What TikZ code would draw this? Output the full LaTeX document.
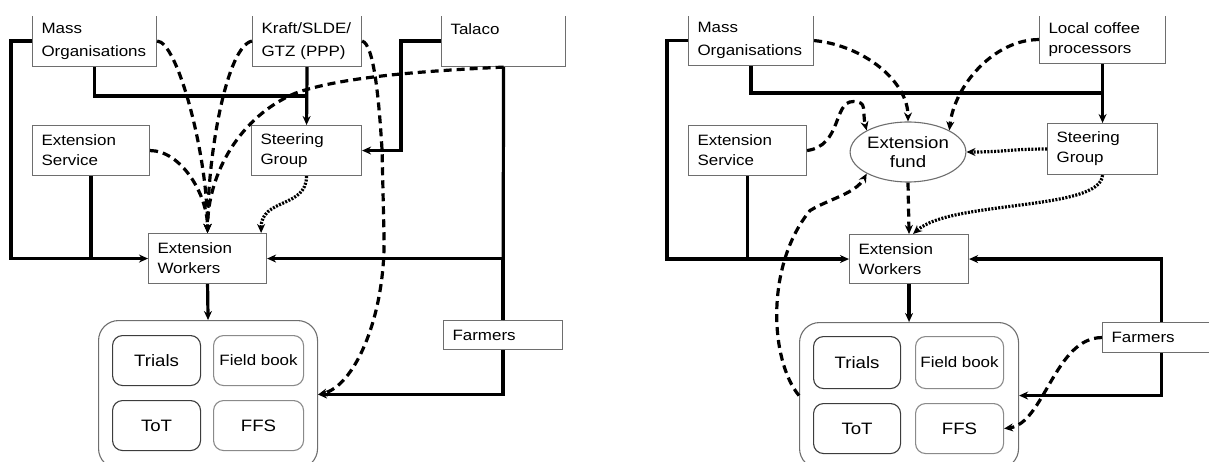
\documentclass[tikz,border=0pt]{standalone}
\usepackage{fontspec}
\setmainfont{Liberation Sans}[FakeStretch=1.13]
\usepackage{tikz}
\usetikzlibrary{arrows.meta,shapes.geometric}
\definecolor{edgex}{HTML}{6E6E6E}
\definecolor{darkx}{HTML}{3C3C3C}
\definecolor{lightx}{HTML}{8A8A8A}
\tikzset{
  ln/.style={line width=3.2pt,black},
  ar/.style={ln,-{Stealth[length=9pt,width=8pt]}},
  dsh/.style={ar,dash pattern=on 8pt off 5pt},
  dts/.style={ar,dash pattern=on 2pt off 1.4pt},
  box/.style={draw=edgex,line width=1.1pt,fill=white,anchor=north west,align=left,inner xsep=9pt,inner ysep=0pt,font=\fontsize{15}{20}\selectfont},
  topbox/.style={box,font=\fontsize{15}{23}\selectfont},
  act/.style={draw=darkx,line width=1.1pt,rounded corners=10pt,anchor=north west,align=center,inner sep=0pt,font=\fontsize{16.5}{18}\selectfont},
  frame/.style={draw=edgex,line width=1.1pt,rounded corners=20pt,anchor=north west,inner sep=0pt}
}
\begin{document}
\begin{tikzpicture}[x=1pt,y=-1pt]
\useasboundingbox (0,0) rectangle (1209,462);
\clip (0,17) rectangle (1209,462);
% left: before the fund
\node[topbox,text width=106pt,minimum height=51pt] (massL) at (32,15) {Mass\\Organisations};
\node[topbox,text width=91pt,minimum height=51pt] (kraftL) at (252,15) {Kraft/SLDE/\\GTZ (PPP)};
\node[topbox,text width=106pt,minimum height=51pt] (talacoL) at (441,15) {Talaco\\\mbox{}};
\node[box,text width=99pt,minimum height=50pt] (servL) at (32,125) {Extension\\Service};
\node[box,text width=92pt,minimum height=50pt] (steerL) at (251,125) {Steering\\Group};
\node[box,text width=100pt,minimum height=50pt] (ewL) at (148,233) {Extension\\Workers};
\node[box,text width=101pt,minimum height=29pt] (farmL) at (443,320) {Farmers};
\node[frame,minimum width=219pt,minimum height=148pt] (bigL) at (98,320) {};
\node[act,minimum width=88pt,minimum height=50pt] (trialsL) at (112,335) {Trials};
\node[act,draw=lightx,minimum width=90pt,minimum height=50pt,font=\fontsize{15}{18}\selectfont] (bookL) at (213,335) {Field book};
\node[act,minimum width=88pt,minimum height=50pt] (totL) at (112,400) {ToT};
\node[act,draw=lightx,minimum width=90pt,minimum height=50pt] (ffsL) at (213,400) {FFS};
\coordinate (jL) at (306,96);

\draw[ar] (massL.west) -- ++(-21,0) |- (ewL.west);
\draw[ln] (servL.south) -- (servL.south |- ewL.west);
\draw[ln] (massL.south) |- (jL);
\draw[ar] (kraftL.south) -- (steerL.north);
\draw[ar] (talacoL.west) -- ++(-40,0) |- (steerL.east);
\draw[ln] (talacoL.south) -- (farmL.north);
\draw[ar] (farmL.north) |- (ewL.east);
\draw[ar] (farmL.south) |- (bigL.east);
\draw[ar] (ewL.south) -- (bigL.north);

\draw[dsh] (massL.east) .. controls +(20,0) and +(0,-80) .. (ewL.north);
\draw[dsh] (kraftL.west) .. controls +(-25,5) and +(0,-80) .. (ewL.north);
\draw[dsh] (talacoL.south) .. controls +(-83,4) and +(45,-16) .. ++(-208,26)
  .. controls +(-55,23) and +(0,-60) .. (ewL.north);
\draw[dsh] (servL.east) .. controls +(30,0) and +(0,-40) .. (ewL.north);
\draw[dts] (steerL.south) .. controls +(0,32) and +(0,-35) .. ([xshift=-6pt]ewL.north east);
\draw[dsh] (kraftL.east) .. controls +(12,3) and +(-3,-50) .. ++(20,110)
  -- ++(2,90) .. controls +(0,80) and +(35,-8) .. (bigL.east);

% right: with the fund
\node[topbox,text width=107pt,minimum height=50pt] (massR) at (688,15) {Mass\\Organisations};
\node[box,text width=108pt,minimum height=48pt] (coffR) at (1039,15) {Local coffee\\processors};
\node[box,text width=100pt,minimum height=50pt] (servR) at (688,125) {Extension\\Service};
\node[box,text width=92pt,minimum height=51pt] (steerR) at (1047,123) {Steering\\Group};
\node[ellipse,draw=edgex,line width=1.1pt,fill=white,minimum width=105pt,minimum height=60pt,inner sep=0pt,align=center,font=\fontsize{16.5}{19}\selectfont] (fundR) at (908,152) {Extension\\fund};
\node[box,text width=101pt,minimum height=49pt] (ewR) at (849,234) {Extension\\Workers};
\node[box,text width=100pt,minimum height=30pt] (farmR) at (1102,322) {Farmers};
\node[frame,minimum width=219pt,minimum height=146pt] (bigR) at (799,322) {};
\node[act,minimum width=87pt,minimum height=52pt] (trialsR) at (813,336) {Trials};
\node[act,draw=lightx,minimum width=88pt,minimum height=52pt,font=\fontsize{15}{18}\selectfont] (bookR) at (915,336) {Field book};
\node[act,minimum width=87pt,minimum height=50pt] (totR) at (813,403) {ToT};
\node[act,draw=lightx,minimum width=88pt,minimum height=50pt] (ffsR) at (915,403) {FFS};
\coordinate (jR) at (1102,93);

\draw[ar] (massR.west) -- ++(-21,0) |- (ewR.west);
\draw[ln] (servR.south) -- (servR.south |- ewR.west);
\draw[ln] (massR.south) |- (jR);
\draw[ar] (coffR.south) -- (steerR.north);
\draw[ar] (farmR.north) |- (ewR.east);
\draw[ar] (farmR.south) |- (bigR.east);
\draw[ar] (ewR.south) -- (bigR.north);

\draw[dsh] (fundR.south) -- (ewR.north);
\draw[dsh] (massR.east) .. controls +(50,5) and +(0,-40) .. (fundR.north);
\draw[dsh] (coffR.west) .. controls +(-45,0) and +(5,-45) .. (fundR.north east);
\draw[dsh] (servR.east) .. controls +(35,-5) and +(-20,0) .. ++(46,-49)
  .. controls +(15,0) and +(-5,-20) .. (fundR.north west);
\draw[dsh] (bigR.west) .. controls +(-29,-35) and +(-45,55) .. ++(11,-185)
  .. controls +(20,-12) and +(-11,20) .. (fundR.south west);
\draw[dts] (steerR.west) .. controls +(-40,0) and +(40,0) .. (fundR.east);
\draw[dts] (steerR.south) .. controls +(-2,36) and +(38,-34) .. ([xshift=4pt]ewR.north);
\draw[dsh] (farmR.west) .. controls +(-47,0) and +(40,-5) .. (ffsR.east);
\end{tikzpicture}
\end{document}
